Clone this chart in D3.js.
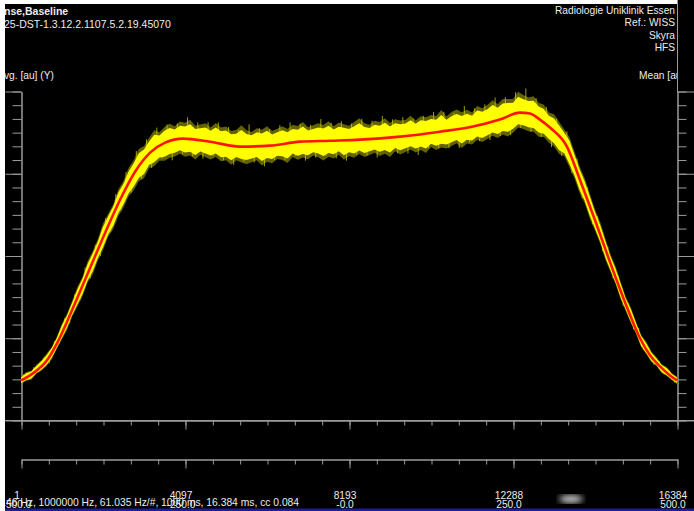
<!DOCTYPE html>
<html><head><meta charset="utf-8">
<script src="https://cdn.jsdelivr.net/npm/d3@7"></script>
<style>
body{margin:0;background:#fff;}
svg{display:block;}
text{font-family:"Liberation Sans",Arial,sans-serif;}
</style></head><body>
<svg id="chart" width="694" height="511"></svg>
<script>
// mean curve (red), sample index vs avg [au] in tick units
var meanIdx = [1,300,650,900,1350,1725,2100,2475,2850,3225,3600,4050,4720,5470,6220,6970,7720,8470,9470,10465,
	11290,11960,12460,12710,12960,13210,13635,13960,14335,14710,15085,15460,15710,15960,16210,16384];
var meanVal = [2.93,3.44,4.39,5.63,8.56,11.12,13.68,16.10,18.15,19.54,20.27,20.56,20.34,19.98,20.05,20.34,20.41,20.49,20.71,21.07,
	21.44,21.95,22.46,22.39,21.95,21.37,19.98,17.56,14.63,11.56,8.63,6.00,4.76,3.95,3.29,2.93];

// single shots (yellow): spread above / below the mean, one value every 128 samples
var bandStep = 128;
var bandHi = [0.2,0.3,0.2,0.3,0.3,0.4,0.3,0.4,0.5,0.4, 0.5,0.6,0.5,0.7,0.6,0.6,0.8,0.7,0.6,0.8,
	0.7,0.9,0.8,1.0,0.8,0.9,1.1,0.8,0.9,1.0, 0.8,1.0,0.9,1.1,0.8,0.9,1.0,0.8,1.1,0.9,
	1.0,0.8,0.9,1.2,0.9,0.8,1.0,0.9,1.1,0.8, 0.9,1.0,0.8,1.0,0.9,1.1,0.8,0.9,1.0,0.9,
	1.1,0.8,1.0,0.9,0.8,1.0,1.2,0.9,0.8,1.0, 0.9,1.1,0.8,1.0,0.9,0.9,1.1,0.8,1.0,0.9,
	1.0,0.9,1.2,0.8,1.0,1.1,0.9,1.0,0.8,1.1, 0.9,1.0,1.2,0.9,1.1,1.0,0.9,1.2,1.0,0.9,
	1.1,0.9,1.0,0.8,1.0,0.9,0.8,0.9,0.8,0.7, 0.8,0.7,0.6,0.7,0.6,0.5,0.6,0.5,0.4,0.5,
	0.4,0.3,0.4,0.3,0.3,0.2,0.3,0.2,0.2];
var bandLo = [0.2,0.2,0.3,0.2,0.3,0.3,0.4,0.3,0.4,0.5, 0.4,0.5,0.6,0.5,0.7,0.6,0.7,0.6,0.8,0.7,
	0.8,0.7,0.9,0.8,1.0,0.8,0.9,0.8,1.0,0.9, 0.9,0.8,1.0,0.9,1.1,0.8,0.9,1.0,0.8,1.0,
	0.9,1.1,0.8,0.9,1.0,0.9,0.8,1.1,0.9,1.0, 0.8,0.9,1.1,0.8,1.0,0.9,1.0,0.8,0.9,1.1,
	0.9,1.0,0.8,1.1,0.9,1.0,0.8,1.0,0.9,0.8, 1.0,0.9,1.1,0.8,1.0,0.9,0.8,1.0,0.9,1.1,
	0.8,1.0,0.9,1.0,0.9,0.8,1.1,0.9,1.0,0.8, 1.0,0.9,0.8,1.0,0.9,1.1,1.0,0.8,0.9,1.0,
	0.9,1.0,0.8,0.9,0.8,0.9,0.7,0.8,0.7,0.8, 0.6,0.7,0.6,0.5,0.6,0.5,0.4,0.5,0.4,0.4,
	0.3,0.4,0.3,0.3,0.2,0.3,0.2,0.2,0.2];
// spikes between band points (+ up, - down)
var spikes = [0.3,-0.3,0.4,-0.3,0.4,-0.5,0.5,-0.4,0.6,-0.6, 0.7,-0.6,0.9,-0.8,0.8,-0.9,1.0,-0.8,1.1,-0.9,
	1.2,-1.0,1.4,-1.1,1.3,-1.2,1.5,-1.0,1.3,-1.4, 1.2,-1.1,1.6,-1.2,1.3,-1.3,1.4,-1.0,1.5,-1.2,
	1.3,-1.4,1.2,-1.1,1.6,-1.2,1.3,-1.5,1.2,-1.1, 1.4,-1.2,1.5,-1.0,1.3,-1.4,1.2,-1.2,1.6,-1.1,
	1.3,-1.3,1.4,-1.5,1.2,-1.1,1.5,-1.2,1.3,-1.4, 1.6,-1.0,1.3,-1.2,1.4,-1.3,1.2,-1.5,1.3,-1.1,
	1.5,-1.2,1.4,-1.3,1.2,-1.4,1.6,-1.1,1.3,-1.2, 1.4,-1.3,1.7,-1.2,1.5,-1.4,1.6,-1.1,1.8,-1.3,
	1.4,-1.2,1.3,-1.3,1.2,-1.1,1.1,-1.0,1.0,-0.9, 0.9,-0.8,0.8,-0.7,0.7,-0.6,0.6,-0.6,0.5,-0.5,
	0.5,-0.4,0.4,-0.4,0.3,-0.3,0.3,-0.3];

var xMajor = [1,4097,8193,12288,16384];
var xLabels = ['1','4097','8193','12288','16384'];
var ppmLabels = ['-500.0','-250.0','-0.0','250.0','500.0'];
var yMajor = [0,6,12,18,24];

var headLeft = ['nse,Baseline','25-DST-1.3.12.2.1107.5.2.19.45070'];
var headRight = ['Radiologie Uniklinik Essen','Ref.: WISS','Skyra','HFS'];
var status = '46 Hz, 1000000 Hz, 61.035 Hz/#, 1000 ms, 16.384 ms, cc 0.084';

var svg = d3.select('#chart');
var W = 694, H = 511;
var axisCol = '#9c9c9c', txtCol = '#ececec';

svg.append('rect').attr('x',0).attr('y',0).attr('width',W).attr('height',H).attr('fill','#fff');
svg.append('rect').attr('x',5).attr('y',4).attr('width',W-5).attr('height',H-4).attr('fill','#000');
svg.append('rect').attr('x',677).attr('y',0).attr('width',W-677).attr('height',4).attr('fill','#000');

var x = d3.scaleLinear().domain([1,16384]).range([21,677]);
var y = d3.scaleLinear().domain([0,24]).range([420.5,91.5]);
var meanAt = d3.scaleLinear().domain(meanIdx).range(meanVal);

var defs = svg.append('defs');
defs.append('clipPath').attr('id','clipR').append('rect').attr('x',0).attr('y',0).attr('width',677).attr('height',H);
defs.append('filter').attr('id','blur').append('feGaussianBlur').attr('stdDeviation',3);

// header texts
svg.selectAll('.hl').data(headLeft).enter().append('text')
	.attr('x',4).attr('y',(d,i) => 15+i*12.8)
	.attr('font-size',10.5).attr('font-weight',(d,i) => i==0 ? 'bold' : 'normal')
	.attr('fill',txtCol).text(d => d);
svg.selectAll('.hr').data(headRight).enter().append('text')
	.attr('x',675).attr('y',(d,i) => 14+i*12.4).attr('text-anchor','end')
	.attr('font-size',10.2).attr('fill',txtCol).text(d => d);
svg.append('text').attr('x',4).attr('y',79).attr('font-size',10.2).attr('fill',txtCol).text('vg. [au] (Y)');
svg.append('text').attr('x',639).attr('y',79).attr('font-size',10.2).attr('fill',txtCol)
	.attr('clip-path','url(#clipR)').text('Mean [au] (Y)');
svg.append('line').attr('x1',677.5).attr('x2',677.5).attr('y1',0).attr('y2',92).attr('stroke',axisCol);

// axes
function styleAxis(g){ g.attr('color',axisCol); g.selectAll('text').remove(); }
var yMinor = d3.range(0,25);
svg.append('g').attr('transform','translate(21.5,0)')
	.call(d3.axisLeft(y).tickValues(yMinor).tickSize(9).tickSizeOuter(0)).call(styleAxis);
svg.append('g').attr('transform','translate(21.5,0)')
	.call(d3.axisLeft(y).tickValues(yMajor).tickSize(16).tickSizeOuter(0)).call(styleAxis);
svg.append('g').attr('transform','translate(677.5,0)')
	.call(d3.axisRight(y).tickValues(yMinor).tickSize(9).tickSizeOuter(0)).call(styleAxis);
svg.append('g').attr('transform','translate(677.5,0)')
	.call(d3.axisRight(y).tickValues(yMajor).tickSize(17).tickSizeOuter(0)).call(styleAxis);

var xMinor = d3.range(25).map(i => 1 + i*16383/24);
[420.5, 459.5].forEach(yy => {
	svg.append('g').attr('transform','translate(0.5,'+yy+')')
		.call(d3.axisBottom(x).tickValues(xMinor).tickSize(5).tickSizeOuter(0)).call(styleAxis);
	svg.append('g').attr('transform','translate(0.5,'+yy+')')
		.call(d3.axisBottom(x).tickValues(xMajor).tickSize(9).tickSizeOuter(0)).call(styleAxis);
});
svg.append('line').attr('x1',5).attr('x2',W).attr('y1',420.5).attr('y2',420.5).attr('stroke',axisCol);

// yellow single shots
var band = d3.range(bandHi.length).map(k => {
	var i = Math.min(1 + k*bandStep, 16384);
	return {i: i, m: meanAt(i), hi: bandHi[k], lo: bandLo[k]};
});
var hairs = spikes.map((s,k) => {
	var i = 1 + k*bandStep + bandStep/2;
	return {i: i, m: meanAt(i), s: s};
});
// dull outer fringe
svg.append('path').datum(band)
	.attr('d', d3.area().x(d => x(d.i)).y0(d => y(d.m - d.lo*1.3)).y1(d => y(d.m + d.hi*1.3)))
	.attr('fill','#8c8c00').attr('opacity',0.7);
svg.append('g').selectAll('line').data(hairs).enter().append('line')
	.attr('x1',d => x(d.i)).attr('x2',d => x(d.i))
	.attr('y1',d => y(d.m)).attr('y2',d => y(d.m + d.s))
	.attr('stroke','#c8c800').attr('stroke-width',1).attr('opacity',0.8);
svg.append('path').datum(band)
	.attr('d', d3.area().x(d => x(d.i)).y0(d => y(d.m - d.lo)).y1(d => y(d.m + d.hi)))
	.attr('fill','#ffff00');

// red mean
var meanPts = meanIdx.map((v,i) => [v, meanVal[i]]);
svg.append('path').datum(meanPts)
	.attr('d', d3.line().x(d => x(d[0])).y(d => y(d[1])).curve(d3.curveMonotoneX))
	.attr('fill','none').attr('stroke','#ff1400').attr('stroke-width',2.6);

// bottom labels
svg.selectAll('.xl').data(xMajor).enter().append('text')
	.attr('x',d => x(d)-4).attr('y',499).attr('text-anchor','middle')
	.attr('font-size',10.2).attr('fill',txtCol).text((d,i) => xLabels[i]);
svg.selectAll('.pl').data(xMajor).enter().append('text')
	.attr('x',d => x(d)-4).attr('y',507.5).attr('text-anchor','middle')
	.attr('font-size',10.2).attr('fill',txtCol).text((d,i) => ppmLabels[i]);
svg.append('text').attr('x',6).attr('y',506).attr('font-size',10.3).attr('fill',txtCol).text(status);
svg.append('ellipse').attr('cx',571).attr('cy',499).attr('rx',12).attr('ry',4)
	.attr('fill','#fff').attr('opacity',0.8).attr('filter','url(#blur)');

svg.append('rect').attr('x',0).attr('y',0).attr('width',5).attr('height',H).attr('fill','#fff');
svg.append('rect').attr('x',5).attr('y',508.5).attr('width',W-5).attr('height',3).attr('fill','#1e1e9a');
</script>
</body></html>
